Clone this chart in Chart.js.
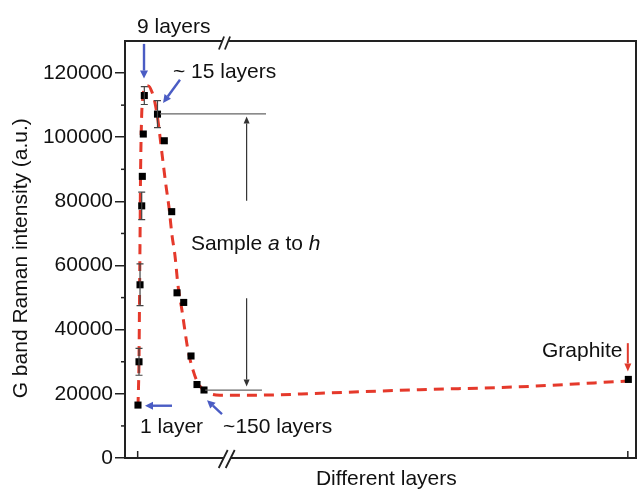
<!DOCTYPE html>
<html><head><meta charset="utf-8">
<script src="https://cdn.jsdelivr.net/npm/chart.js@4"></script>
<style>html,body{margin:0;padding:0;background:#fff}#wrap{width:638px;height:492px}</style>
</head><body><div id="wrap"><canvas id="c" width="638" height="492"></canvas></div>
<script>
const FONT = '"Liberation Sans", Arial, Helvetica, sans-serif';

// measured samples (x = position along the "Different layers" axis, arbitrary units)
const sampleX = [2.54, 2.74, 2.94, 3.27, 3.39, 3.58, 3.78, 6.36, 7.69, 9.14, 10.18, 11.49, 12.92, 14.09, 15.46, 98.5];
const intensity = [16500, 30000, 54000, 78600, 87800, 101000, 113000, 107200, 98900, 76800, 51500, 48500, 31800, 22900, 21200, 24500];
const errorBar = [0, 4200, 6500, 4300, 0, 0, 2800, 4200, 0, 0, 0, 0, 0, 0, 0, 0];

// red dashed guide curve
const fitX = [2.54, 2.74, 2.84, 2.94, 3.03, 3.23, 3.52, 4.01, 4.60, 5.28, 5.87, 6.46, 7.24, 8.02, 8.61, 9.20, 9.78, 10.37, 11.15, 12.33, 13.31, 14.29, 16.05, 18.59, 26.4, 38.2, 57.7, 77.3, 98.4];
const fitY = [15900, 30500, 49100, 67800, 86500, 105100, 112900, 115700, 116000, 114100, 110700, 105100, 94900, 84900, 78100, 69400, 63100, 53800, 46000, 33600, 27400, 23300, 20500, 19600, 19600, 20200, 21300, 22200, 24000];

const yTicks = [0, 20000, 40000, 60000, 80000, 100000, 120000];
const yMinorTicks = [10000, 30000, 50000, 70000, 90000, 110000];
const xTicks = [2.48, 98.4];

function arrow(ctx, x1, y1, x2, y2, color, lw, hl, hw) {
  const a = Math.atan2(y2 - y1, x2 - x1);
  const bx = x2 - hl * Math.cos(a), by = y2 - hl * Math.sin(a);
  ctx.save();
  ctx.strokeStyle = color; ctx.fillStyle = color; ctx.lineWidth = lw;
  ctx.beginPath(); ctx.moveTo(x1, y1); ctx.lineTo(bx, by); ctx.stroke();
  ctx.beginPath();
  ctx.moveTo(x2, y2);
  ctx.lineTo(bx + hw / 2 * Math.sin(a), by - hw / 2 * Math.cos(a));
  ctx.lineTo(bx - hw / 2 * Math.sin(a), by + hw / 2 * Math.cos(a));
  ctx.closePath(); ctx.fill();
  ctx.restore();
}

const decor = {
  id: 'decor',
  afterDatasetsDraw(chart) {
    const ctx = chart.ctx, xs = chart.scales.x, ys = chart.scales.y;
    ctx.save();
    ctx.strokeStyle = '#444'; ctx.lineWidth = 1.2;
    sampleX.forEach((x, i) => {
      const e = errorBar[i];
      if (!e) return;
      const px = xs.getPixelForValue(x);
      const t = ys.getPixelForValue(intensity[i] + e), b = ys.getPixelForValue(intensity[i] - e);
      ctx.beginPath();
      ctx.moveTo(px, t); ctx.lineTo(px, b);
      ctx.moveTo(px - 3.5, t); ctx.lineTo(px + 3.5, t);
      ctx.moveTo(px - 3.5, b); ctx.lineTo(px + 3.5, b);
      ctx.stroke();
    });
    ctx.restore();
  },
  afterDraw(chart) {
    const ctx = chart.ctx, xs = chart.scales.x, ys = chart.scales.y, ca = chart.chartArea;
    const X = v => xs.getPixelForValue(v), Y = v => ys.getPixelForValue(v);
    ctx.save();
    // box top & right
    ctx.strokeStyle = '#222'; ctx.lineWidth = 2;
    ctx.beginPath();
    ctx.moveTo(ca.left, ca.top); ctx.lineTo(ca.right, ca.top); ctx.lineTo(ca.right, ca.bottom);
    ctx.stroke();
    // minor y ticks
    ctx.lineWidth = 1.5;
    yMinorTicks.forEach(v => {
      ctx.beginPath(); ctx.moveTo(ca.left - 4, Y(v)); ctx.lineTo(ca.left, Y(v)); ctx.stroke();
    });
    // inward x ticks
    xTicks.forEach(v => {
      ctx.beginPath(); ctx.moveTo(X(v), ca.bottom); ctx.lineTo(X(v), ca.bottom - 7); ctx.stroke();
    });
    // axis break marks
    function brk(cx, cy, dx, dy, gap) {
      ctx.save();
      ctx.fillStyle = '#fff';
      ctx.beginPath();
      ctx.moveTo(cx - gap / 2 - dx, cy + dy); ctx.lineTo(cx - gap / 2 + dx, cy - dy);
      ctx.lineTo(cx + gap / 2 + dx, cy - dy); ctx.lineTo(cx + gap / 2 - dx, cy + dy);
      ctx.closePath(); ctx.fill();
      ctx.strokeStyle = '#222'; ctx.lineWidth = 1.8;
      ctx.beginPath();
      ctx.moveTo(cx - gap / 2 - dx, cy + dy); ctx.lineTo(cx - gap / 2 + dx, cy - dy);
      ctx.moveTo(cx + gap / 2 - dx, cy + dy); ctx.lineTo(cx + gap / 2 + dx, cy - dy);
      ctx.stroke();
      ctx.restore();
    }
    brk(X(19.47), ca.top + 2, 2.6, 6.5, 6);
    brk(X(19.9), ca.bottom + 1, 4.5, 9, 7);

    // thin reference lines
    ctx.strokeStyle = '#666'; ctx.lineWidth = 1.2;
    ctx.beginPath();
    ctx.moveTo(X(6.85), Y(107300)); ctx.lineTo(X(27.6), Y(107300));
    ctx.moveTo(X(15.7), Y(21150)); ctx.lineTo(X(26.8), Y(21150));
    ctx.stroke();
    arrow(ctx, X(23.8), Y(80200), X(23.8), Y(106500), '#333', 1.2, 7, 6);
    arrow(ctx, X(23.8), Y(49800), X(23.8), Y(22300), '#333', 1.2, 7, 6);

    // blue arrows
    const blue = '#4a5cc4';
    arrow(ctx, X(3.72), Y(129100), X(3.72), Y(118300), blue, 2.4, 8, 8);
    arrow(ctx, X(10.76), Y(117900), X(7.44), Y(110700), blue, 2.4, 8, 8);
    arrow(ctx, X(9.2), Y(16300), X(3.91), Y(16300), blue, 2.4, 8, 8);
    arrow(ctx, X(18.98), Y(13700), X(16.05), Y(18000), blue, 2.4, 8, 8);
    // red graphite arrow
    arrow(ctx, X(98.4), Y(35800), X(98.4), Y(27000), '#e03a2c', 2, 8, 7);

    // texts
    ctx.fillStyle = '#111';
    ctx.textBaseline = 'alphabetic';
    ctx.textAlign = 'left';
    const nf = '21px ' + FONT, itf = 'italic 21px ' + FONT;
    ctx.font = nf;
    ctx.fillText('9 layers', X(2.35), Y(132500));
    ctx.fillText('~ 15 layers', X(9.39), Y(118500));
    ctx.fillText('1 layer', X(2.94), Y(7900));
    ctx.fillText('~150 layers', X(19.2), Y(7900));
    ctx.fillText('Graphite', X(81.6), Y(31500));
    // Sample a to h
    let sx = X(12.9); const sy = Y(65000);
    [['Sample ', nf], ['a', itf], [' to ', nf], ['h', itf]].forEach(([t, f]) => {
      ctx.font = f; ctx.fillText(t, sx, sy); sx += ctx.measureText(t).width;
    });
    ctx.restore();
  }
};

new Chart(document.getElementById('c'), {
  type: 'scatter',
  data: {
    datasets: [
      {
        label: 'fit', type: 'line',
        data: fitX.map((x, i) => ({ x, y: fitY[i] })),
        borderColor: '#e5392b', borderWidth: 3, borderDash: [10, 7],
        pointRadius: 0, cubicInterpolationMode: 'monotone', fill: false, order: 2
      },
      {
        label: 'samples',
        data: sampleX.map((x, i) => ({ x, y: intensity[i] })),
        pointStyle: 'rect', pointRadius: 5, backgroundColor: '#000', borderColor: '#000', borderWidth: 0, order: 1
      }
    ]
  },
  options: {
    responsive: false, animation: false, devicePixelRatio: 1,
    layout: { autoPadding: false, padding: { top: 41, right: 2, left: 0, bottom: 0 } },
    plugins: { legend: { display: false }, tooltip: { enabled: false } },
    scales: {
      x: {
        type: 'linear', min: 0, max: 100,
        afterFit(s) { s.height = 34; },
        afterBuildTicks(s) { s.ticks = xTicks.map(v => ({ value: v })); },
        ticks: { display: false },
        grid: { display: false },
        border: { display: true, color: '#222', width: 2 },
        title: { display: true, text: '  Different layers', font: { family: FONT, size: 21 }, color: '#111', padding: 0 }
      },
      y: {
        type: 'linear', min: 0, max: 130000,
        afterFit(s) { s.width = 125; },
        afterBuildTicks(s) { s.ticks = yTicks.map(v => ({ value: v })); },
        ticks: { font: { family: FONT, size: 21 }, color: '#111', padding: 2, callback: v => String(v) },
        grid: { drawOnChartArea: false, tickLength: 10, color: '#222', lineWidth: 1.5 },
        border: { color: '#222', width: 2 },
        title: { display: true, text: 'G band Raman intensity (a.u.)   ', font: { family: FONT, size: 21 }, color: '#111', padding: { top: 9, bottom: 0 } }
      }
    }
  },
  plugins: [decor]
});
</script></body></html>
